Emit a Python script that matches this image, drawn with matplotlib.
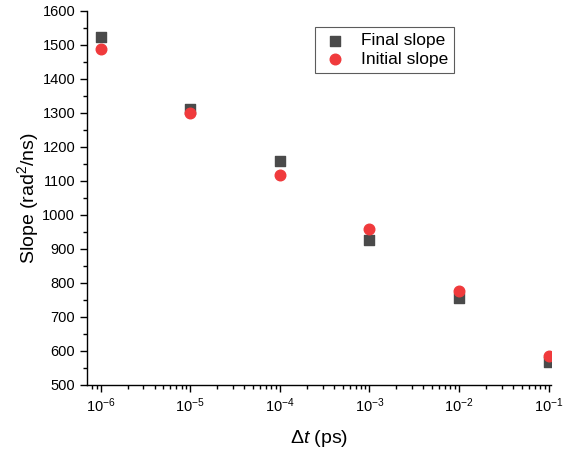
import numpy as np
import matplotlib
matplotlib.use('Agg')
import matplotlib.pyplot as plt
from matplotlib.ticker import LogLocator, LogFormatterMathtext, MultipleLocator, NullFormatter

plt.rcParams['font.family'] = ['Liberation Sans', 'DejaVu Sans']
plt.rcParams['mathtext.fontset'] = 'custom'
plt.rcParams['mathtext.rm'] = 'Liberation Sans'
plt.rcParams['mathtext.it'] = 'Liberation Sans:italic'
plt.rcParams['mathtext.bf'] = 'Liberation Sans:bold'

# data
dt = [1e-6, 1e-5, 1e-4, 1e-3, 1e-2, 1e-1]
final_slope = [1525, 1311, 1159, 927, 756, 567]
initial_slope = [1488, 1301, 1119, 959, 777, 586]

fig = plt.figure(figsize=(5.77, 4.53), dpi=100)
ax = fig.add_axes([87/577, 1 - 385/453, (551 - 87)/577, (385 - 11)/453])

ax.scatter(dt, final_slope, marker='s', s=48, color='#4a4a4a', label='Final slope', zorder=3)
ax.scatter(dt, initial_slope, marker='o', s=58, color='#f03a3c', label='Initial slope', zorder=4)

ax.set_xscale('log')
ax.set_xlim(10**-6.153, 10**-0.974)
ax.set_ylim(500, 1600)

ax.xaxis.set_major_locator(LogLocator(base=10, numticks=20))
ax.xaxis.set_major_formatter(LogFormatterMathtext())
ax.xaxis.set_minor_locator(LogLocator(base=10, subs=np.arange(2, 10), numticks=20))
ax.xaxis.set_minor_formatter(NullFormatter())
ax.yaxis.set_major_locator(MultipleLocator(100))
ax.yaxis.set_minor_locator(MultipleLocator(50))

ax.spines['top'].set_visible(False)
ax.spines['right'].set_visible(False)
for s in ['left', 'bottom']:
    ax.spines[s].set_linewidth(1.0)

ax.tick_params(which='major', direction='out', length=5, width=1, labelsize=10.5)
ax.tick_params(which='minor', direction='out', length=3, width=1)

ax.set_xlabel(r'$\Delta t$ (ps)', fontsize=14, labelpad=9)
ax.set_ylabel(r'Slope (rad$^2$/ns)', fontsize=14, labelpad=1)

leg = ax.legend(loc='upper left', bbox_to_anchor=(315/577, 1 - 27/453),
                bbox_transform=fig.transFigure, fontsize=12.5, frameon=True,
                fancybox=False, edgecolor='#333333', handletextpad=0.7,
                borderpad=0.35, labelspacing=0.2, handlelength=1.6,
                borderaxespad=0)
leg.get_frame().set_linewidth(0.8)

fig.savefig('out.png', dpi=100)
